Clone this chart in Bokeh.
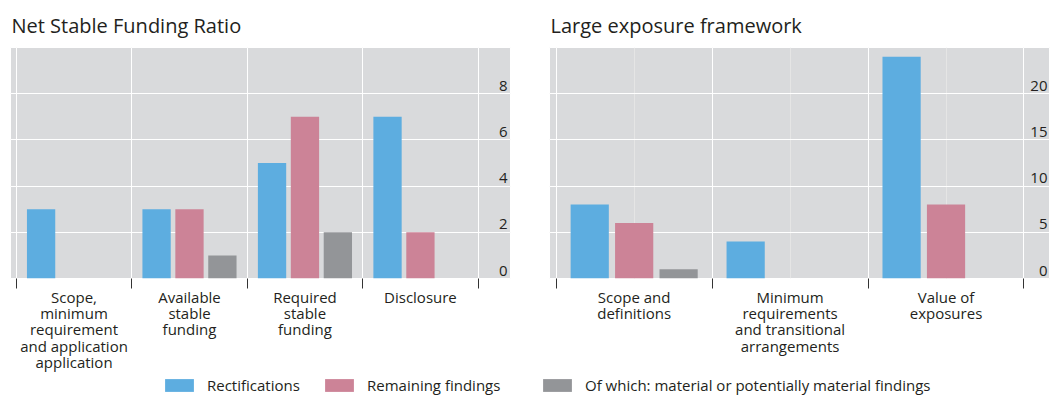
import numpy as np
from bokeh.plotting import figure
from bokeh.models import Range1d, FixedTicker, LinearAxis, Grid, Legend, LegendItem
from bokeh.layouts import row, column
from bokeh.embed import file_html
from bokeh.resources import INLINE
from bokeh.core.properties import value

# ---- data -------------------------------------------------------------
nsfr_categories = [
    "Scope,\nminimum\nrequirement\nand application\napplication",
    "Available\nstable\nfunding",
    "Required\nstable\nfunding",
    "Disclosure",
]
nsfr_rectifications = [3, 3, 5, 7]
nsfr_remaining = [0, 3, 7, 2]
nsfr_material = [0, 1, 2, 0]
nsfr_ticks = [0, 2, 4, 6, 8]

lex_categories = [
    "Scope and\ndefinitions",
    "Minimum\nrequirements\nand transitional\narrangements",
    "Value of\nexposures",
]
lex_rectifications = [8, 4, 24]
lex_remaining = [6, 0, 8]
lex_material = [1, 0, 0]
lex_ticks = [0, 5, 10, 15, 20]

series_names = [
    "Rectifications",
    "Remaining findings",
    "Of which: material or potentially material findings",
]

# ---- style ------------------------------------------------------------
FONT = "Open Sans"
TEXT = "#231f20"
BG = "#D9DADC"
COLORS = ["#5DADE0", "#CC8397", "#939598"]
OFFSETS = [-0.285, 0.0, 0.285]
BAR_W = 0.245
ROW_H = 376


def panel(title, cats, series, ticks, y_end, x_start, x_end, width,
          border_left, border_right):
    n = len(cats)
    bounds = list(range(n + 1))
    centers = np.arange(n) + 0.5

    p = figure(width=width, height=ROW_H,
               x_range=Range1d(x_start, x_end), y_range=Range1d(0, y_end),
               output_backend="svg", toolbar_location=None,
               x_axis_location=None, y_axis_location=None,
               min_border_left=border_left, min_border_right=border_right,
               min_border_top=47, min_border_bottom=ROW_H - 278,
               background_fill_color=BG, border_fill_color="white",
               outline_line_color="white", outline_line_width=1)

    p.title.text = title
    p.title.text_font = FONT
    p.title.text_font_size = "20px"
    p.title.text_font_style = "normal"
    p.title.text_color = TEXT
    p.title.align = "left"
    p.title.standoff = 18
    p.title.offset = 1

    p.add_layout(Grid(dimension=0, ticker=FixedTicker(ticks=bounds),
                      grid_line_color="white", grid_line_width=1))
    p.add_layout(Grid(dimension=1, ticker=FixedTicker(ticks=ticks),
                      grid_line_color="white", grid_line_width=1))

    for vals, color, off in zip(series, COLORS, OFFSETS):
        p.vbar(x=centers + off, top=vals, width=BAR_W,
               fill_color=color, line_color=None)

    # value labels sit inside the plot, at the right edge above each gridline
    p.text(x=[x_end] * len(ticks), y=ticks, text=[str(t) for t in ticks],
           text_align="right", text_baseline="alphabetic",
           x_offset=-3, y_offset=-8,
           text_font=value(FONT), text_font_size="15px", text_color=TEXT)

    # boundary tick marks between categories
    tick_axis = LinearAxis(ticker=FixedTicker(ticks=bounds),
                           major_label_overrides={b: "" for b in bounds},
                           major_label_text_font_size="1px",
                           major_label_standoff=0,
                           major_tick_out=10, major_tick_in=0,
                           major_tick_line_color="#333333",
                           minor_tick_line_color=None,
                           axis_line_color=None)
    p.add_layout(tick_axis, "below")

    # category names centred under each group
    label_axis = LinearAxis(ticker=FixedTicker(ticks=list(centers)),
                            major_label_overrides={float(c): t for c, t in zip(centers, cats)},
                            major_label_text_font=FONT,
                            major_label_text_font_size="15px",
                            major_label_text_line_height=0.82,
                            major_label_text_color=TEXT,
                            major_label_standoff=-2,
                            major_tick_out=0, major_tick_in=0,
                            major_tick_line_color=None,
                            minor_tick_line_color=None,
                            axis_line_color=None)
    p.add_layout(label_axis, "below")
    return p


left = panel("Net Stable Funding Ratio", nsfr_categories,
             [nsfr_rectifications, nsfr_remaining, nsfr_material],
             nsfr_ticks, 10, -0.05, 4.28, 539, 10, 29)
right = panel("Large exposure framework", lex_categories,
              [lex_rectifications, lex_remaining, lex_material],
              lex_ticks, 25, -0.043, 3.17, 511, 10, 0)

# ---- shared legend strip ---------------------------------------------
lf = figure(width=1050, height=397 - ROW_H, output_backend="svg", toolbar_location=None,
            x_axis_location=None, y_axis_location=None,
            x_range=Range1d(0, 1), y_range=Range1d(0, 1),
            min_border=0, outline_line_color=None)
lf.grid.visible = False
legend_x = [161, 321, 539]
for name, color, lx in zip(series_names, COLORS, legend_x):
    # a single sample bar kept outside the strip's visible range feeds the swatch
    r = lf.vbar(x=[5], top=[1], width=1, fill_color=color, line_color=None)
    lg = Legend(items=[LegendItem(label=name, renderers=[r])],
                location=(lx, 2), orientation="horizontal",
                padding=0, margin=0, spacing=0,
                border_line_color=None, background_fill_alpha=0,
                glyph_width=36, glyph_height=16, label_height=16,
                label_standoff=10, label_text_font=FONT,
                label_text_font_size="15px", label_text_color=TEXT)
    lf.add_layout(lg)

layout = column(row(left, right), lf)

open("out.html", "w").write(file_html(layout, INLINE))
